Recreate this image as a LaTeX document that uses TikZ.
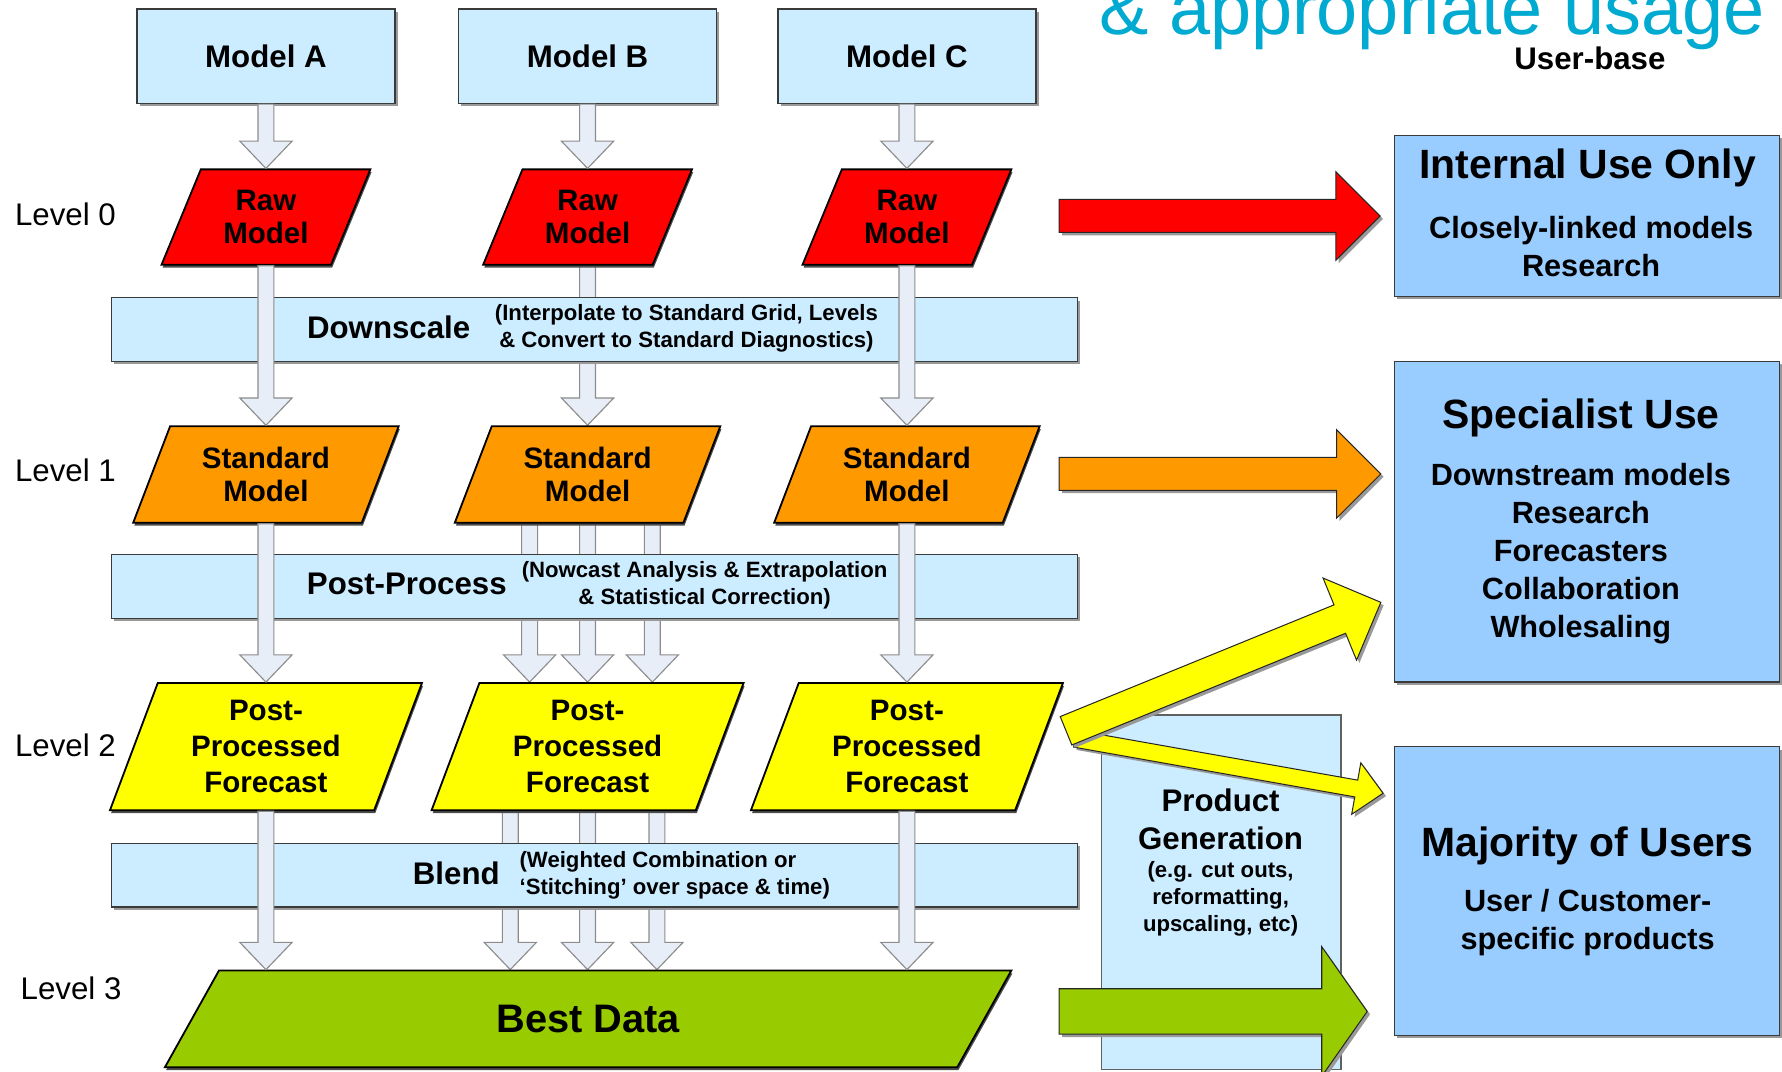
\documentclass[tikz,border=0pt]{standalone}
\usepackage{fontspec}
\setmainfont{Liberation Sans}
\usetikzlibrary{calc,shapes.geometric,shadows}
\definecolor{lblue}{HTML}{CCECFF}
\definecolor{rblue}{HTML}{99CCFF}
\definecolor{arrfill}{HTML}{E8EEF7}
\definecolor{arrline}{HTML}{8C8C8C}
\definecolor{edgec}{HTML}{3A3A3A}
\definecolor{cred}{HTML}{FF0000}
\definecolor{corange}{HTML}{FF9900}
\definecolor{cyellow}{HTML}{FFFF00}
\definecolor{cgreen}{HTML}{99CC00}
\definecolor{ccyan}{HTML}{00AAD0}
\newcommand\myfs[2]{\fontsize{#1}{#2}\selectfont}
\pgfdeclarelayer{back}
\pgfsetlayers{back,main}
\begin{document}
\begin{tikzpicture}[x=1pt,y=-1pt,
  shadowed/.style={drop shadow={shadow xshift=2.5pt,shadow yshift=-2.5pt,fill=black!40,opacity=1}},
  modelbox/.style={rectangle, draw=edgec, line width=1.2pt, fill=lblue, minimum width=227pt, minimum height=83pt, inner sep=0pt, shadowed, font=\bfseries\myfs{27.5}{31}},
  barbox/.style={rectangle, draw=edgec, line width=1.2pt, fill=lblue, minimum width=850pt, minimum height=56pt, inner sep=0pt, shadowed},
  para/.style={trapezium, trapezium stretches=true, draw=black, line width=1.6pt, inner sep=0pt, align=center, font=\bfseries\myfs{26}{31.5}, drop shadow={shadow xshift=1pt,shadow yshift=-2.5pt,fill=black!70,opacity=1}},
  rawp/.style={para, trapezium left angle=64.5, trapezium right angle=115.5, minimum width=184pt, minimum height=84pt, fill=cred},
  stdp/.style={para, trapezium left angle=65.9, trapezium right angle=114.1, minimum width=234pt, minimum height=85pt, fill=corange},
  ppfp/.style={para, trapezium left angle=70.3, trapezium right angle=109.7, minimum width=275pt, minimum height=112pt, fill=cyellow},
  bartitle/.style={inner sep=0pt, font=\bfseries\myfs{27.5}{31}},
  barnote/.style={inner sep=0pt, align=center, font=\bfseries\myfs{19.5}{24}},
  lvl/.style={inner sep=0pt, anchor=west, font=\myfs{27.5}{31}},
  rbox/.style={rectangle, draw=edgec, line width=1.2pt, fill=rblue, minimum width=339pt, inner sep=0pt, shadowed},
  boxtitle/.style={inner sep=0pt, font=\bfseries\myfs{36}{40}},
  boxbody/.style={inner sep=0pt, align=center, font=\bfseries\myfs{27}{33.5}},
  blk/.style={fill=arrfill, draw=arrline, line width=1pt},
  bigarrow/.style={draw=black!85, line width=0.9pt, shadowed},
  blockarrow/.style n args={3}{to path={
    ($(\tikztostart)!#1!90:(\tikztotarget)$) --
    ($(\tikztotarget)!#3!(\tikztostart)!#1!90:(\tikztotarget)$) --
    ($(\tikztotarget)!#3!(\tikztostart)!#2!90:(\tikztotarget)$) --
    (\tikztotarget) --
    ($(\tikztotarget)!#3!(\tikztostart)!#2!-90:(\tikztotarget)$) --
    ($(\tikztotarget)!#3!(\tikztostart)!#1!-90:(\tikztotarget)$) --
    ($(\tikztostart)!#1!-90:(\tikztotarget)$) -- cycle}},
  vblk/.style={blk, blockarrow={7pt}{23pt}{24pt}}
]
\useasboundingbox (0,0) rectangle (1568,943);

% title fragment and user-base
\begin{scope}
\clip (0,0) rectangle (1568,943);
\node[anchor=base, inner sep=0pt, text=ccyan, font=\myfs{65}{70}] (title) at (1260,30) {\& appropriate usage};
\end{scope}
\node[inner sep=0pt, font=\bfseries\myfs{27.5}{31}] (ub) at (1399,51) {User-base};

% model boxes
\node[modelbox] (ma) at (234,49.5) {Model A};
\node[modelbox] (mb) at (517,49.5) {Model B};
\node[modelbox] (mc) at (798,49.5) {Model C};

% levels
\node[lvl] (l0) at (13,189) {Level 0};
\node[lvl] (l1) at (13,414) {Level 1};
\node[lvl] (l2) at (13,656) {Level 2};
\node[lvl] (l3) at (18,870) {Level 3};

% bars
\node[barbox] (ds) at (523,290) {};
\node[barbox] (pp) at (523,516) {};
\node[barbox] (bl) at (523,770) {};
\node[bartitle] (dst) at (342,288) {Downscale};
\node[barnote] (dsn) at (604,289) {(Interpolate to Standard Grid, Levels\\\& Convert to Standard Diagnostics)};
\node[bartitle] (ppt) at (358,514) {Post-Process};
\node[barnote] (ppn) at (620,515) {(Nowcast Analysis \& Extrapolation\\\& Statistical Correction)};
\node[bartitle] (blt) at (401.5,768) {Blend};
\node[barnote, align=left, anchor=west] (bln) at (457,770) {(Weighted Combination or\\‘Stitching’ over space \& time)};

% parallelograms
\node[rawp] (ra) at (234,191) {Raw\\[-2pt]Model};
\node[rawp] (rb) at (517,191) {Raw\\[-2pt]Model};
\node[rawp] (rc) at (798,191) {Raw\\[-2pt]Model};
\node[stdp] (sa) at (234,417.5) {Standard\\[-2pt]Model};
\node[stdp] (sb) at (517,417.5) {Standard\\[-2pt]Model};
\node[stdp] (sc) at (798,417.5) {Standard\\[-2pt]Model};
\node[ppfp] (pa) at (234,657) {Post-\\Processed\\Forecast};
\node[ppfp] (pb) at (517,657) {Post-\\Processed\\Forecast};
\node[ppfp] (pc) at (798,657) {Post-\\Processed\\Forecast};
\node[para, trapezium left angle=64.2, trapezium right angle=115.8, minimum width=745pt, minimum height=85pt, fill=cgreen, font=\bfseries\myfs{35}{40}] (bd) at (517.5,896.5) {Best Data};

% column B arrows (behind the bars)
\begin{pgfonlayer}{back}
\draw[vblk] (rb.south) to (sb.north);
\draw[vblk] ([xshift=-51pt]sb.south) to ([xshift=-51pt]pb.north);
\draw[vblk] (sb.south) to (pb.north);
\draw[vblk] ([xshift=57pt]sb.south) to ([xshift=57pt]pb.north);
\draw[vblk] ([xshift=-68pt]pb.south) to ([xshift=-68pt]pb.south |- bd.north);
\draw[vblk] (pb.south) to (pb.south |- bd.north);
\draw[vblk] ([xshift=61pt]pb.south) to ([xshift=61pt]pb.south |- bd.north);
\end{pgfonlayer}

% model -> raw arrows
\draw[vblk] (ma.south) to (ma.south |- ra.north);
\draw[vblk] (mb.south) to (mb.south |- rb.north);
\draw[vblk] (mc.south) to (mc.south |- rc.north);
% columns A and C (in front of the bars)
\draw[vblk] (ra.south) to (sa.north);
\draw[vblk] (sa.south) to (pa.north);
\draw[vblk] (pa.south) to (pa.south |- bd.north);
\draw[vblk] (rc.south) to (sc.north);
\draw[vblk] (sc.south) to (pc.north);
\draw[vblk] (pc.south) to (pc.south |- bd.north);

% right boxes
\node[rbox, minimum height=142pt] (iu) at (1396.5,190) {};
\node[boxtitle] (iut) at (1397,148) {Internal Use Only};
\node[boxbody] (iub) at (1400,217) {Closely-linked models\\Research};
\node[rbox, minimum height=282pt] (sp) at (1396.5,459) {};
\node[boxtitle] (spt) at (1391,368) {Specialist Use};
\node[boxbody] (spb) at (1391,487) {Downstream models\\Research\\Forecasters\\Collaboration\\Wholesaling};
\node[rbox, minimum height=254pt] (mj) at (1396.5,784) {};
\node[boxtitle] (mjt) at (1397,744) {Majority of Users};
\node[boxbody] (mjb) at (1397,812) {User / Customer-\\specific products};

% product generation
\node[rectangle, draw=edgec!80, line width=1.2pt, fill=lblue, minimum width=211pt, minimum height=312pt, inner sep=0pt] (pg) at (1074.5,785) {};

% big arrows
\coordinate (redt) at (932,190);
\coordinate (oret) at (932,417);
\coordinate (oreh) at (1215,417);
\coordinate (grnt) at (932,890);
\coordinate (grnh) at (1203,890);
\coordinate (y1t) at (938,643);
\coordinate (y1h) at (1215,530);
\coordinate (y2t) at (946,650);
\coordinate (y2h) at (1217,698);
\draw[bigarrow, fill=cred, blockarrow={14.5pt}{39pt}{39pt}] (redt) to ([xshift=-12pt]iu.west);
\draw[bigarrow, fill=corange, blockarrow={14.5pt}{39pt}{39pt}] (oret) to (oreh);
\draw[bigarrow, fill=cgreen, blockarrow={20pt}{57pt}{40pt}] (grnt) to (grnh);
\draw[bigarrow, fill=cyellow, blockarrow={7.5pt}{23pt}{24pt}] (y2t) to (y2h);
\draw[bigarrow, fill=cyellow, blockarrow={13.5pt}{39pt}{39pt}] (y1t) to (y1h);

\node[inner sep=0pt, align=center, font=\bfseries\myfs{27.5}{34}] (pgt) at (1074,721) {Product\\Generation};
\node[inner sep=0pt, align=center, font=\bfseries\myfs{19.5}{24}] (pgs) at (1074,791) {(e.g. cut outs,\\reformatting,\\upscaling, etc)};
\end{tikzpicture}
\end{document}
